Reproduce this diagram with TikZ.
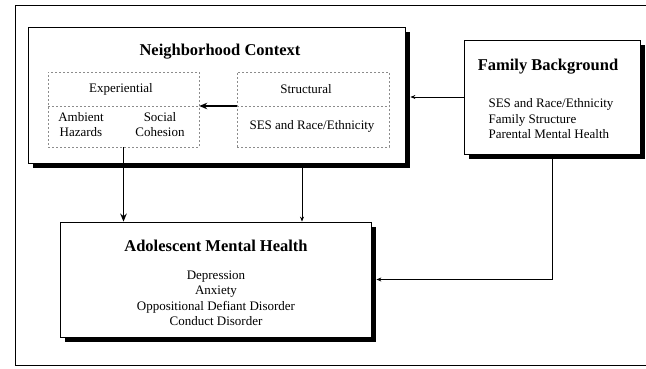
\documentclass[tikz,border=0pt]{standalone}
\usepackage{fontspec}
\setmainfont{Liberation Serif}
\usepackage{tikz}
\usetikzlibrary{arrows.meta,shadows}

\tikzset{
    box/.style={draw, line width=0.8pt, fill=white, inner sep=0pt,
        drop shadow={shadow xshift=5pt, shadow yshift=-5pt, fill=black, opacity=1}},
    subbox/.style={draw=black!45, dash pattern=on 2pt off 2pt, line width=0.5pt, inner sep=0pt},
    title/.style={font=\fontsize{16.5}{19}\selectfont\bfseries},
    body/.style={font=\fontsize{13}{15.5}\selectfont, align=center},
    link/.style={line width=0.7pt, -{Stealth[length=5pt,width=4pt]}},
    biglink/.style={line width=1.6pt, -{Stealth[length=8pt,width=6.5pt]}}
}

\begin{document}
\begin{tikzpicture}[x=1pt, y=-1pt]
        \useasboundingbox (0,0) rectangle (646,369);
        % outer frame (open on the right)
        \draw[line width=0.8pt] (646,5) -- (15,5) -- (15,365) -- (646,365);

        % neighborhood context
        \node[box, minimum width=377pt, minimum height=136pt] (nbh) at (216.5,95) {};
        \node[title] (nbhtitle) at (220,52) {Neighborhood Context};
        \node[subbox, minimum width=151pt, minimum height=75pt] (exp) at (123.5,109.5) {};
        \node[subbox, minimum width=152pt, minimum height=75pt] (str) at (313,109.5) {};
        \draw[subbox] (exp.west |- 0,106) -- (exp.east |- 0,106);
        \draw[subbox] (str.west |- 0,106) -- (str.east |- 0,106);
        \node[body] (exptitle) at (121,89) {Experiential};
        \node[body] (ambient) at (81,124.5) {Ambient\\Hazards};
        \node[body] (social) at (160,124.5) {Social\\Cohesion};
        \node[body] (strtitle) at (306,89) {Structural};
        \node[body] (strses) at (312,126) {SES and Race/Ethnicity};

        % family background
        \node[box, minimum width=176pt, minimum height=114pt] (fam) at (552,97) {};
        \node[title] (famtitle) at (548,67) {Family Background};
        \node[body, anchor=west, align=left] (famlist) at (485,119)
            {SES and Race/Ethnicity\\Family Structure\\Parental Mental Health};

        % adolescent mental health
        \node[box, minimum width=311pt, minimum height=115pt] (ado) at (215.5,279.5) {};
        \node[title] (adotitle) at (216,246) {Adolescent Mental Health};
        \node[body] (adolist) at (216,298.5)
            {Depression\\Anxiety\\Oppositional Defiant Disorder\\Conduct Disorder};

        % connectors
        \coordinate (midline) at (0,106);
        \coordinate (nbhdrop) at (302,0);
        \coordinate (nbhshadow) at ([xshift=5pt]nbh.east);
        \coordinate (adoshadow) at ([xshift=5pt]ado.east);
        \draw[biglink] (str.west |- midline) -- (exp.east |- midline);
        \draw[link] (fam.west) -- (nbhshadow |- fam.west);
        \draw[biglink] (exp.south) -- (ado.north -| exp.south);
        \draw[link] (nbh.south -| nbhdrop) -- (ado.north -| nbhdrop);
        \draw[link] (fam.south) |- (adoshadow);
    \end{tikzpicture}
\end{document}
